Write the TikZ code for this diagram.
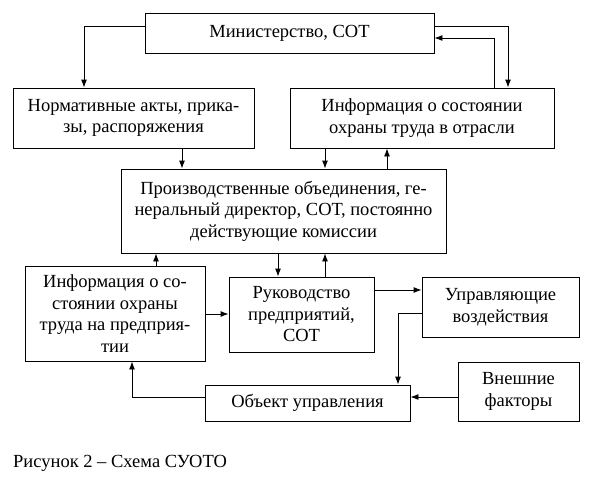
\documentclass[tikz,border=0pt]{standalone}
\usepackage{fontspec}
\setmainfont{Liberation Serif}
\usetikzlibrary{arrows.meta}
\begin{document}
\begin{tikzpicture}[x=1pt,y=-1pt,
  box/.style={draw,line width=0.9pt,inner sep=0pt,align=center,font=\fontsize{18.5}{21.5}\selectfont},
  arr/.style={line width=0.9pt,-{Latex[length=8pt,width=6pt]}}]
\useasboundingbox (0,0) rectangle (593,483);
\node[box,minimum width=289pt,minimum height=40pt] (min) at (289.5,33) {Министерство, СОТ};
\node[box,minimum width=241pt,minimum height=60pt] (norm) at (133.5,118) {Нормативные акты, прика-\\зы, распоряжения};
\node[box,minimum width=264pt,minimum height=60pt] (infoind) at (422,118) {Информация о состоянии\\охраны труда в отрасли};
\node[box,minimum width=325pt,minimum height=84pt] (prod) at (283.5,211) {Производственные объединения, ге-\\неральный директор, СОТ, постоянно\\действующие комиссии};
\node[box,minimum width=180pt,minimum height=95pt] (infoent) at (115,313.5) {Информация о со-\\стоянии охраны\\труда на предприя-\\тии};
\node[box,minimum width=145pt,minimum height=75pt] (ruk) at (301.5,314.5) {Руководство\\предприятий,\\СОТ};
\node[box,minimum width=157pt,minimum height=60pt] (upr) at (500.5,307) {Управляющие\\воздействия};
\node[box,minimum width=205pt,minimum height=36pt] (obj) at (307.5,403) {Объект управления};
\node[box,minimum width=121pt,minimum height=59pt] (ext) at (518.5,391.5) {Внешние\\факторы};
\node[anchor=west,inner sep=0pt,font=\fontsize{18.5}{21.5}\selectfont] (cap) at (13,463) {Рисунок 2 – Схема СУОТО};
% connectors
\draw[arr] (min.west |- 0,26) -| (norm.north -| 84,0);
\draw[arr] (min.east |- 0,26) -| (infoind.north -| 508,0);
\draw[arr] (infoind.north -| 494,0) |- (min.east |- 0,38);
\draw[arr] (norm.south -| 182,0) -- (prod.north -| 182,0);
\draw[arr] (infoind.south -| 325,0) -- (prod.north -| 325,0);
\draw[arr] (prod.north -| 387,0) -- (infoind.south -| 387,0);
\draw[arr] (infoent.north -| 156,0) -- (prod.south -| 156,0);
\draw[arr] (prod.south -| 278,0) -- (ruk.north -| 278,0);
\draw[arr] (ruk.north -| 325,0) -- (prod.south -| 325,0);
\draw[arr] (infoent.east |- 0,314) -- (ruk.west |- 0,314);
\draw[arr] (ruk.east |- 0,290) -- (upr.west |- 0,290);
\draw[arr] (upr.west |- 0,313) -| (obj.north -| 398,0);
\draw[arr] (ext.west |- 0,397) -- (obj.east |- 0,397);
\draw[arr] (obj.west |- 0,397) -| (infoent.south -| 132,0);
\end{tikzpicture}
\end{document}
